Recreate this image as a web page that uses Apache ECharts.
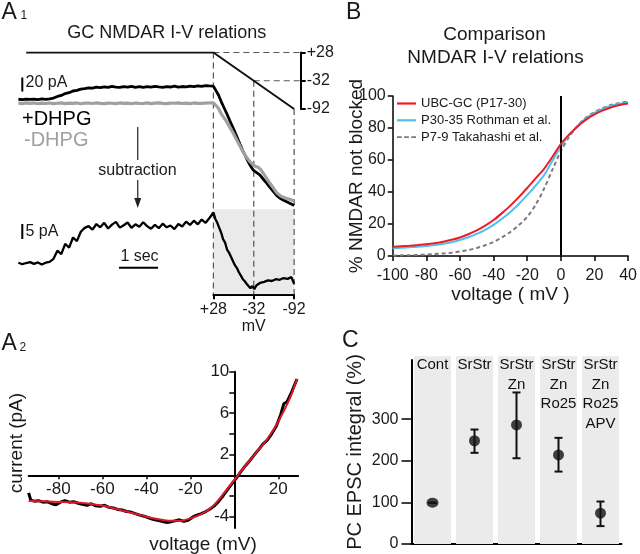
<!DOCTYPE html>
<html><head><meta charset="utf-8">
<script src="https://cdn.jsdelivr.net/npm/echarts@6.0.0/dist/echarts.min.js"></script>
<style>html,body{margin:0;padding:0;background:#fff}#c{width:640px;height:554px}</style>
</head><body><div id="c"></div>
<script>
const FONT = "'Liberation Sans', Arial, Helvetica, sans-serif";

// ---------- Panel A1 : traces (time in s, current in pA, command in mV) ----------
const sampleStep = 0.1; // s between pre-ramp samples
const plusDhpgPre = [5.8,5.2,6.1,5.5,5.9,5.3,6.2,5.6,6.4,7.5,
  9.8,11.2,13.9,15.1,17.6,18.4,20.3,20.9,22.1,21.6,
  23.0,22.4,23.6,22.8,24.1,23.2,22.7,23.9,23.1,24.3,
  22.9,23.7,22.6,23.8,23.0,24.2,23.4,22.8,23.9,23.3,
  24.4,23.1,24.0,23.5,24.6,23.8,24.9,24.2,25.3,24.8];
const minusDhpgPre = [0.3,-0.5,0.6,-0.2,0.4,-0.6,0.2,-0.3,0.5,-0.4,
  0.1,0.6,-0.5,0.3,-0.2,0.5,-0.6,0.2,0.4,-0.3,
  0.6,-0.1,-0.5,0.3,0.1,-0.4,0.5,-0.2,0.3,-0.6,
  0.4,0.0,-0.3,0.6,-0.4,0.2,0.5,-0.2,-0.5,0.3,
  0.1,0.6,-0.3,0.2,-0.4,0.5,0.0,-0.2,0.4,0.6];
const subtractionPre = [0.2,-0.3,0.1,0.4,-0.2,0.3,-0.4,0.2,0.5,1.5,
  4.2,3.1,6.5,5.2,8.6,7.4,10.5,11.8,12.4,11.2,
  13.1,12.0,13.5,11.6,12.9,13.8,11.9,12.7,13.6,11.8,
  13.0,12.2,13.7,12.4,11.5,12.8,11.7,13.2,12.0,12.6,
  11.4,13.1,12.3,13.9,12.8,14.2,13.0,14.6,13.5,15.1];
const plusDhpgRamp = [[5.0,24.5],[5.05,22],[5.13,11.9],[5.2,2.5],[5.27,-6],[5.34,-14.3],[5.42,-24.5],[5.51,-35.7],
  [5.6,-47.5],[5.68,-58.1],[5.76,-68.5],[5.85,-78.6],[5.93,-87.5],[6.02,-95.3],[6.1,-98.8],[6.19,-102.4],
  [6.28,-108.5],[6.37,-114.3],[6.45,-120.2],[6.54,-126.3],[6.62,-131.5],[6.71,-135.7],[6.8,-138.6],
  [6.88,-140.6],[6.97,-143.1],[7.05,-145.3],[7.07,-146]];
const minusDhpgRamp = [[5.0,0.8],[5.05,-1.5],[5.13,-7.1],[5.2,-15],[5.27,-20.5],[5.34,-26.3],[5.42,-34],[5.51,-42.9],
  [5.6,-52.5],[5.68,-61],[5.76,-69.2],[5.85,-77.1],[5.93,-83],[6.02,-88.1],[6.09,-90.5],[6.15,-91.4],
  [6.22,-95.2],[6.28,-100],[6.37,-107.5],[6.45,-114.3],[6.54,-121.2],[6.62,-127.7],[6.71,-131.8],
  [6.79,-134.3],[6.88,-136],[6.96,-137.1],[7.07,-139.5]];
const subtractionRamp = [[5.0,17.0],[5.05,14.8],[5.1,13.5],[5.15,11.8],[5.2,10.2],[5.25,8.0],[5.3,6.9],[5.35,4.6],
  [5.4,3.6],[5.45,2.2],[5.5,0.8],[5.55,-0.6],[5.6,-1.5],[5.65,-2.9],[5.7,-4.0],[5.75,-5.2],[5.8,-5.9],
  [5.85,-6.8],[5.9,-7.2],[5.95,-8.3],[6.0,-7.6],[6.05,-8.6],[6.1,-7.4],[6.15,-7.0],[6.2,-6.5],[6.3,-6.2],
  [6.4,-5.7],[6.5,-5.9],[6.6,-5.3],[6.7,-5.5],[6.8,-4.9],[6.9,-5.2],[7.0,-4.6],[7.05,-4.9],[7.07,-6.8]];
const commandTrace = [[0.2,28],[5.0,28],[7.07,-92]];   // t (s), mV
const rampMarks = [28,-32,-92];                          // mV
const rampTimes = [5.0,6.035,7.07];                      // s
const shadeWindow = [5.0,7.07];                          // s
const shadeTop = 18;                                     // pA
const scaleBar20 = [17,37];                              // pA
const scaleBar5 = [8.1,13.1];                            // pA
const scaleBarSec = [2.58,3.58];                         // s

// ---------- Panel A2 : I-V ----------
const ivRawV = [-93.5,-92.5,-91,-89,-87,-85,-83,-81,-79,-77,-75,-73,-71,-69,-67,-65,-63,-61,-59,-57,-55,-53,-51,-49,-47,-45,-43,-41,-39,-37,-35,-33,-31,-29,-27,-25,-23,-21,-19,-17,-15,-13,-11,-9,-7,-5,-3,-1,1,3,5,7,9,11,13,15,17,19,21,22.5,24,26,28.5];
const ivRawI = [-1.7,-2.4,-2.5,-2.45,-2.6,-2.55,-2.75,-2.85,-2.6,-2.45,-2.6,-2.55,-2.7,-2.8,-2.9,-2.75,-2.95,-3.0,-2.9,-3.1,-3.15,-3.3,-3.35,-3.5,-3.55,-3.7,-3.85,-3.95,-4.1,-4.25,-4.35,-4.45,-4.55,-4.5,-4.4,-4.3,-4.45,-4.35,-4.05,-3.85,-3.7,-3.5,-3.25,-2.95,-2.5,-1.95,-1.35,-0.8,-0.25,0.35,0.9,1.4,1.95,2.45,3.0,3.4,4.0,4.7,5.8,6.9,7.1,8.0,9.3];
const ivFitV = [-93.5,-90,-85,-80,-75,-70,-65,-60,-55,-50,-45,-40,-35,-30,-25,-20,-15,-10,-5,0,5,10,15,20,25,28.5];
const ivFitI = [-2.48,-2.5,-2.53,-2.57,-2.6,-2.66,-2.78,-2.94,-3.18,-3.45,-3.72,-4.0,-4.22,-4.38,-4.4,-4.16,-3.74,-3.03,-1.8,-0.45,0.9,2.2,3.5,5.2,7.3,9.3];
const a2XRange = [-93.5,29];
const a2YRange = [-5.1,10];
const a2TickLabelsX = [-80,-60,-40,-20,20];
const a2TickLabelsY = [-4,2,6,10];
const a2TicksY = [-4,-2,2,4,6,8,10];

// ---------- Panel B : comparison ----------
const bVoltage = [-100,-95,-90,-85,-80,-75,-70,-65,-60,-55,-50,-45,-40,-35,-30,-25,-20,-15,-10,-5,0,5,10,15,20,25,30,35,40];
const ubcGc    = [5.8,6.1,6.4,6.8,7.3,8.0,8.9,10.1,11.6,13.6,16.0,19.0,22.5,26.8,31.5,36.8,42.5,48.5,54.5,62.0,70.0,76.0,81.0,85.2,88.5,91.0,93.0,94.4,95.3];
const rothman  = [4.9,5.1,5.4,5.8,6.2,6.8,7.6,8.6,10.0,11.7,13.8,16.4,19.5,23.3,27.5,32.5,38.0,44.0,50.5,59.5,68.5,75.5,81.5,86.0,89.5,92.0,94.0,95.2,96.0];
const takahashi= [0.3,0.4,0.5,0.7,0.9,1.2,1.6,2.1,2.8,3.8,5.0,6.7,8.8,11.6,15.0,19.3,24.5,32.0,42.0,54.0,65.5,74.5,81.5,86.5,90.0,92.5,94.5,95.7,96.5];
const bNames = ['UBC-GC (P17-30)','P30-35 Rothman et al.','P7-9 Takahashi et al.'];

// ---------- Panel C : EPSC integral ----------
const cCategories = ['Cont','SrStr','SrStr\nZn','SrStr\nZn\nRo25','SrStr\nZn\nRo25\nAPV'];
const cMean = [99,248,286,214,74];
const cLow  = [99,219,206,174,43];
const cHigh = [99,275,364,255,102];
const cBandTop = 451;
const cTicks = [0,100,200,300];

// ---------- build ----------
const t = i => +(i*sampleStep).toFixed(2);
const pre = arr => arr.map((v,i)=>[t(i),v]);
const V_MIN = -485.6, V_MAX = 28;
const dash = {color:'#555', width:1.2, type:[6,4]};
const seg = (data, yIdx, lineStyle, z) => ({type:'line', xAxisIndex:0, yAxisIndex:yIdx, data, symbol:'none', lineStyle, silent:true, z: z||2});

const series = [];
series.push({type:'line', xAxisIndex:0, yAxisIndex:2, data:[[shadeWindow[0],shadeTop],[shadeWindow[1],shadeTop]], symbol:'none',
  lineStyle:{width:0}, areaStyle:{color:'#eaeaea', opacity:1, origin:'start'}, silent:true, z:1});
rampTimes.forEach((tt,i)=>series.push(seg([[tt,rampMarks[i]],[tt,V_MIN]],0,dash,3)));
const scaleT = 7.24;
series.push(seg([[rampTimes[0],rampMarks[0]],[scaleT,rampMarks[0]]],0,dash,3));
series.push(seg([[rampTimes[1],rampMarks[1]],[scaleT,rampMarks[1]]],0,dash,3));
series.push(seg(commandTrace,0,{color:'#111',width:2},4));
series.push(seg(pre(plusDhpgPre).concat(plusDhpgRamp),1,{color:'#000',width:2.8},4));
series.push(seg(pre(minusDhpgPre).concat(minusDhpgRamp),1,{color:'#a0a0a0',width:3.2},5));
series.push(seg(pre(subtractionPre).concat(subtractionRamp),2,{color:'#000',width:2.3},4));
series.push(seg([[0.1,scaleBar20[0]],[0.1,scaleBar20[1]]],1,{color:'#000',width:2},4));
series.push(seg([[0.1,scaleBar5[0]],[0.1,scaleBar5[1]]],2,{color:'#000',width:2},4));
series.push(seg([[scaleBarSec[0],-1.47],[scaleBarSec[1],-1.47]],2,{color:'#000',width:2},4));
series.push(seg([[3.06,-33.9],[3.06,-81]],1,{color:'#222',width:1.2},4));
series.push({type:'line', xAxisIndex:0, yAxisIndex:1, silent:true, z:4, showSymbol:true,
  data:[{value:[3.06,-109.6], symbol:'none'},{value:[3.06,-142.5], symbol:'triangle', symbolSize:[7,10], symbolRotate:180}],
  lineStyle:{color:'#222',width:1.2}, itemStyle:{color:'#222'}});

// A2
series.push({type:'line', xAxisIndex:3, yAxisIndex:5, data:ivRawV.map((v,i)=>[v,ivRawI[i]]), symbol:'none',
  lineStyle:{color:'#000',width:3}, silent:true, z:3});
series.push({type:'line', xAxisIndex:3, yAxisIndex:5, data:ivFitV.map((v,i)=>[v,ivFitI[i]]), symbol:'none', smooth:0.3,
  lineStyle:{color:'#e3162b',width:2}, silent:true, z:4});

// B
const bColors = ['#ec1c24','#4dc0ef','#7a7a7a'];
[ubcGc, rothman, takahashi].forEach((arr,k)=>{
  const s = {type:'line', name:bNames[k], xAxisIndex:4, yAxisIndex:6, data:bVoltage.map((v,i)=>[v,arr[i]]),
    symbol:'none', smooth:0.3, color:bColors[k],
    lineStyle:{color:bColors[k], width:2, type: k===2 ? [4,3] : 'solid'}, z: 5-k};
  if (k===0) s.markLine = {symbol:'none', silent:true, label:{show:false}, lineStyle:{color:'#000',width:2,type:'solid'}, data:[{xAxis:0}]};
  series.push(s);
});

// C
series.push({type:'bar', xAxisIndex:5, yAxisIndex:7, data:cCategories.map(()=>cBandTop), barWidth:37, clip:false, silent:true,
  itemStyle:{color:'#ebebeb'}, z:1,
  label:{show:true, position:'insideTop', distance:-1, formatter:p=>cCategories[p.dataIndex], fontSize:15, lineHeight:19.5, color:'#111', fontFamily:FONT}});
series.push({type:'custom', xAxisIndex:5, yAxisIndex:7, silent:true, z:3,
  data:cCategories.map((c,i)=>[i,cLow[i],cHigh[i]]),
  renderItem:(params,api)=>{
    const x=api.value(0), lo=api.value(1), hi=api.value(2);
    const a=api.coord([x,lo]), b=api.coord([x,hi]); const w=4;
    const st={stroke:'#111',lineWidth:2};
    return {type:'group',children:[
      {type:'line',shape:{x1:a[0],y1:a[1],x2:b[0],y2:b[1]},style:st},
      {type:'line',shape:{x1:a[0]-w,y1:a[1],x2:a[0]+w,y2:a[1]},style:st},
      {type:'line',shape:{x1:b[0]-w,y1:b[1],x2:b[0]+w,y2:b[1]},style:st}]};
  }});
series.push({type:'scatter', xAxisIndex:5, yAxisIndex:7, silent:true, z:4, symbolSize:11,
  itemStyle:{color:'#111'}, data:cMean.map((v,i)=>i===0?{value:[i,v],symbolSize:[12,10]}:[i,v])});

const axLine = {show:true, onZero:false, lineStyle:{color:'#000', width:2}};
const A2 = {left:28.6, top:371.7, width:269.5, height:156.4};
// put A2 axes through the origin: shift them by where 0 falls in each range
const a2XOffset = -(0 - a2YRange[0])/(a2YRange[1]-a2YRange[0])*A2.height;
const a2YOffset = -(0 - a2XRange[0])/(a2XRange[1]-a2XRange[0])*A2.width;
const option = {
  animation:false,
  textStyle:{fontFamily:FONT, color:'#1a1a1a'},
  grid:[
    {left:18.4, top:52.5, width:312, height:241.8},
    {left:300.7, top:52.5, width:10, height:56.5},
    {left:213.4, top:200, width:80.7, height:94.3},
    A2,
    {left:392.7, top:96, width:240, height:160},
    {left:411.5, top:360, width:210, height:184}
  ],
  xAxis:[
    {gridIndex:0, type:'value', min:0, max:8, show:false},
    {gridIndex:1, type:'value', min:0, max:1, show:false},
    {gridIndex:2, type:'value', min:-92, max:28, inverse:true, axisLine:axLine,
      axisTick:{show:true, length:5, customValues:rampMarks, lineStyle:{color:'#000',width:2}},
      axisLabel:{customValues:rampMarks, formatter:v=>v>0?'+'+v:''+v, fontSize:16, margin:7, color:'#1a1a1a'},
      splitLine:{show:false}, name:'mV', nameLocation:'middle', nameGap:19, nameTextStyle:{fontSize:16, color:'#1a1a1a'}},
    {gridIndex:3, type:'value', min:a2XRange[0], max:a2XRange[1], position:'bottom', offset:a2XOffset,
      axisLine:{show:true, onZero:false, lineStyle:{color:'#000',width:2}},
      axisTick:{show:true, length:4, customValues:a2TickLabelsX, lineStyle:{color:'#000',width:1.5}},
      axisLabel:{customValues:a2TickLabelsX, fontSize:17, margin:6, color:'#1a1a1a'}, splitLine:{show:false}},
    {gridIndex:4, type:'value', min:-100, max:40, interval:20, axisLine:{show:true,onZero:false,lineStyle:{color:'#000',width:1.5}},
      axisTick:{show:true, length:5, lineStyle:{color:'#000',width:1.5}},
      axisLabel:{fontSize:16, margin:12, color:'#1a1a1a'}, splitLine:{show:false},
      name:'voltage ( mV )', nameLocation:'middle', nameGap:26, nameTextStyle:{fontSize:19, color:'#1a1a1a'}},
    {gridIndex:5, type:'category', data:cCategories, axisLine:axLine, axisTick:{show:false}, axisLabel:{show:false}}
  ],
  yAxis:[
    {gridIndex:0, type:'value', min:V_MIN, max:V_MAX, show:false},
    {gridIndex:0, type:'value', min:-272.9, max:72.6, show:false},
    {gridIndex:0, type:'value', min:-10.33, max:70.27, show:false},
    {gridIndex:1, type:'value', min:-92, max:28, position:'left', axisLine:{show:true,onZero:false,lineStyle:{color:'#000',width:2}},
      axisTick:{show:true, inside:true, length:5, customValues:rampMarks, lineStyle:{color:'#000',width:2}},
      axisLabel:{inside:true, customValues:rampMarks, formatter:v=>v>0?'+'+v:''+v, fontSize:16, margin:6, color:'#1a1a1a'},
      splitLine:{show:false}},
    {gridIndex:2, type:'value', min:0, max:1, show:false},
    {gridIndex:3, type:'value', min:a2YRange[0], max:a2YRange[1], position:'left', offset:a2YOffset,
      axisLine:{show:true,onZero:false,lineStyle:{color:'#000',width:2}},
      axisTick:{show:true, length:5, customValues:a2TicksY, lineStyle:{color:'#000',width:1.5}},
      axisLabel:{customValues:a2TickLabelsY, fontSize:17, margin:5, color:'#1a1a1a'}, splitLine:{show:false}},
    {gridIndex:4, type:'value', min:0, max:100, interval:20, axisLine:{show:true,onZero:false,lineStyle:{color:'#000',width:1.5}},
      axisTick:{show:true, length:5, lineStyle:{color:'#000',width:1.5}},
      axisLabel:{fontSize:16, margin:7, color:'#1a1a1a'}, splitLine:{show:false},
      name:'% NMDAR not blocked', nameLocation:'middle', nameGap:26, nameMoveOverlap:false, nameTextStyle:{fontSize:19, color:'#1a1a1a'}},
    {gridIndex:5, type:'value', min:0, max:442, axisLine:axLine,
      axisTick:{show:true, length:10, customValues:cTicks, lineStyle:{color:'#000',width:1.5}},
      axisLabel:{customValues:cTicks, fontSize:16, margin:13, color:'#1a1a1a'}, splitLine:{show:false},
      name:'PC EPSC integral (%)', nameLocation:'middle', nameGap:46, nameTextStyle:{fontSize:20, color:'#1a1a1a'}}
  ],
  legend:{
    data:[
      {name:bNames[0], icon:'rect'},
      {name:bNames[1], icon:'rect'},
      {name:bNames[2], icon:'path://M0,0h5v2h-5z M7.5,0h5v2h-5z M15,0h5v2h-5z'}
    ],
    orient:'vertical', left:392, top:92, itemWidth:19, itemHeight:2.2, itemGap:3.8,
    textStyle:{fontSize:13, color:'#1a1a1a', fontFamily:FONT}, selectedMode:false},
  series,
  graphic:[]
};
const txt = (x,y,text,size,extra) => ({type:'text', x, y, silent:true,
  style:Object.assign({text, fontSize:size, fontFamily:FONT, fill:'#1a1a1a', align:'left', verticalAlign:'middle'}, extra||{})});
option.graphic = [
  txt(1.5,12.5,'A',23), txt(20.5,16,'1',12),
  txt(346,12.5,'B',23),
  txt(1.5,344,'A',23), txt(19.5,347.5,'2',12),
  txt(342,340.5,'C',23),
  txt(166.7,33.5,'GC NMDAR I-V relations',18,{align:'center'}),
  txt(22,119.5,'+DHPG',20,{fill:'#000'}),
  txt(24,140.5,'-DHPG',20,{fill:'#a0a0a0'}),
  txt(137.5,170.5,'subtraction',16,{align:'center'}),
  txt(25.5,83,'20 pA',16),
  txt(25.5,232,'5 pA',16),
  txt(139.5,257,'1 sec',16,{align:'center'}),
  txt(494.5,35,'Comparison',19,{align:'center'}),
  txt(495.5,57.5,'NMDAR I-V relations',19,{align:'center'}),
  txt(203,545,'voltage (mV)',19,{align:'center'}),
  Object.assign(txt(17,443,'current (pA)',19,{align:'center'}),{rotation:Math.PI/2})
];
const chart = echarts.init(document.getElementById('c'), null, {renderer:'canvas', width:640, height:554});
chart.setOption(option);
</script></body></html>
